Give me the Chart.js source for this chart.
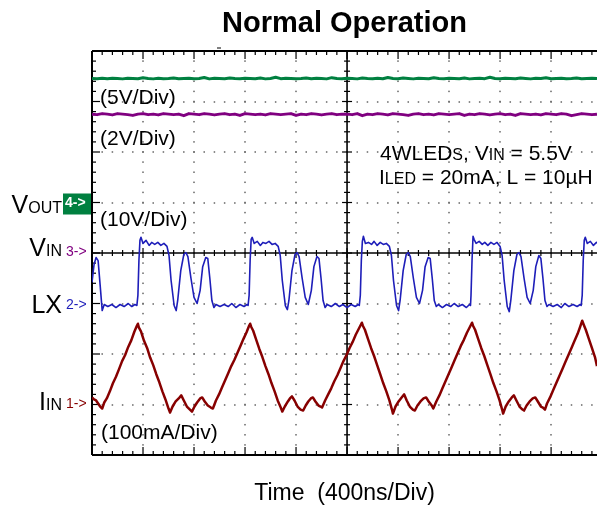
<!DOCTYPE html>
<html>
<head>
<meta charset="utf-8">
<script src="https://cdn.jsdelivr.net/npm/chart.js@4.4.1/dist/chart.umd.min.js"></script>
<style>
html,body{margin:0;padding:0;background:#fff;}
#wrap{width:597px;height:509px;position:relative;}
</style>
</head>
<body>
<div id="wrap"><canvas id="c" width="597" height="509"></canvas></div>
<script>
// ---- time base (divisions, 400ns/div) ----
const tFlat = [0.0,0.1,0.2,0.3,0.4,0.5,0.6,0.7,0.8,0.9,
1.0,1.1,1.2,1.3,1.4,1.5,1.6,1.7,1.8,1.9,
2.0,2.1,2.2,2.3,2.4,2.5,2.6,2.7,2.8,2.9,
3.0,3.1,3.2,3.3,3.4,3.5,3.6,3.7,3.8,3.9,
4.0,4.1,4.2,4.3,4.4,4.5,4.6,4.7,4.8,4.9,
5.0,5.1,5.2,5.3,5.4,5.5,5.6,5.7,5.8,5.9,
6.0,6.1,6.2,6.3,6.4,6.5,6.6,6.7,6.8,6.9,
7.0,7.1,7.2,7.3,7.4,7.5,7.6,7.7,7.8,7.9,
8.0,8.1,8.2,8.3,8.4,8.5,8.6,8.7,8.8,8.9,
9.0,9.1,9.2,9.3,9.4,9.5,9.6,9.7,9.8,9.9];

// ---- CH4 VOUT (V) ----
const voutV = [12.28,12.25,12.31,12.26,12.30,12.28,12.24,12.31,12.28,12.26,
12.36,12.28,12.24,12.30,12.26,12.28,12.32,12.25,12.28,12.30,
12.26,12.28,12.38,12.24,12.30,12.28,12.26,12.33,12.28,12.25,
12.30,12.28,12.26,12.33,12.24,12.28,12.40,12.26,12.30,12.28,
12.25,12.28,12.33,12.26,12.30,12.28,12.24,12.36,12.28,12.26,
12.30,12.28,12.24,12.33,12.28,12.26,12.30,12.25,12.38,12.28,
12.26,12.33,12.28,12.24,12.30,12.28,12.26,12.36,12.28,12.25,
12.30,12.28,12.26,12.33,12.24,12.28,12.30,12.26,12.40,12.28,
12.25,12.30,12.28,12.26,12.33,12.28,12.24,12.30,12.28,12.36,
12.26,12.28,12.30,12.25,12.28,12.33,12.26,12.28,12.30,12.28];

// ---- CH3 VIN (V) ----
const vinV = [5.50,5.48,5.52,5.50,5.47,5.52,5.50,5.48,5.45,5.50,
5.52,5.48,5.50,5.47,5.52,5.50,5.48,5.50,5.44,5.52,
5.50,5.48,5.52,5.50,5.47,5.50,5.52,5.48,5.50,5.45,
5.52,5.50,5.48,5.50,5.47,5.52,5.50,5.48,5.50,5.52,
5.45,5.50,5.48,5.52,5.50,5.47,5.50,5.52,5.48,5.50,
5.50,5.48,5.52,5.44,5.50,5.48,5.52,5.50,5.47,5.52,
5.50,5.48,5.45,5.50,5.52,5.48,5.50,5.47,5.52,5.50,
5.48,5.50,5.52,5.45,5.50,5.48,5.52,5.50,5.47,5.50,
5.52,5.48,5.50,5.45,5.52,5.50,5.48,5.50,5.47,5.52,
5.50,5.48,5.52,5.50,5.44,5.48,5.52,5.50,5.48,5.50];

// ---- CH2 LX (time div, V) ----
const lxTrace = [
[0.00,4.2],[0.04,7.7],[0.08,9.1],[0.12,8.5],[0.16,3.6],[0.20,-1.4],[0.24,-0.2],[0.31,-0.6],[0.39,-0.2],[0.47,-0.8],[0.55,-0.2],[0.63,-0.6],[0.71,0.0],[0.78,-0.6],[0.84,-0.2],[0.88,-0.4],[0.90,1.6],
[0.92,8.5],[0.94,12.5],[0.96,13.1],[1.00,11.9],[1.06,12.5],[1.12,11.5],[1.17,12.1],[1.23,11.7],[1.29,12.1],[1.35,11.5],[1.41,11.9],[1.47,11.3],[1.51,9.5],[1.55,4.6],[1.61,-0.4],[1.65,-1.4],[1.68,0.6],[1.74,6.5],[1.80,9.7],[1.84,10.1],[1.88,9.3],[1.94,5.0],[2.00,1.2],[2.06,0.0],[2.12,2.6],[2.17,7.3],[2.23,9.1],[2.27,8.9],[2.31,5.0],[2.35,0.6],[2.39,-0.8],[2.43,-0.2],[2.51,-0.6],[2.59,-0.2],[2.67,-0.6],[2.74,0.0],[2.82,-0.8],[2.90,-0.2],[2.98,-0.6],[3.04,-0.2],[3.06,-0.4],[3.08,1.6],
[3.10,8.5],[3.12,12.7],[3.14,13.1],[3.18,11.9],[3.24,12.3],[3.30,11.5],[3.35,12.1],[3.41,11.9],[3.47,12.3],[3.53,11.7],[3.59,11.9],[3.65,11.3],[3.69,9.5],[3.73,4.6],[3.79,-0.4],[3.83,-1.2],[3.86,0.6],[3.92,6.5],[3.98,9.7],[4.02,10.1],[4.06,9.3],[4.12,5.0],[4.18,1.2],[4.24,-0.2],[4.30,2.6],[4.35,7.3],[4.41,9.3],[4.45,8.9],[4.49,5.0],[4.53,0.6],[4.57,-0.8],[4.61,-0.2],[4.69,-0.6],[4.77,0.0],[4.85,-0.6],[4.92,-0.2],[5.00,-0.8],[5.08,-0.2],[5.16,-0.6],[5.22,-0.2],[5.24,-0.4],[5.26,1.6],
[5.28,8.5],[5.30,12.3],[5.32,13.3],[5.36,11.9],[5.42,12.1],[5.48,11.7],[5.53,12.3],[5.59,11.5],[5.65,12.1],[5.71,11.7],[5.77,11.9],[5.83,11.3],[5.87,9.5],[5.91,4.6],[5.97,-0.4],[6.01,-1.4],[6.04,0.6],[6.10,6.5],[6.16,9.7],[6.20,10.1],[6.24,9.3],[6.30,5.0],[6.36,1.2],[6.42,0.0],[6.48,2.6],[6.53,7.3],[6.59,9.1],[6.63,8.9],[6.67,5.0],[6.71,0.6],[6.75,-0.6],[6.79,-0.2],[6.87,-0.8],[6.95,-0.2],[7.03,-0.6],[7.10,0.0],[7.18,-0.6],[7.26,-0.2],[7.34,-0.8],[7.40,-0.2],[7.42,-0.4],[7.43,1.6],
[7.45,8.5],[7.47,13.3],[7.49,12.7],[7.53,11.9],[7.59,12.3],[7.65,11.7],[7.70,12.1],[7.76,11.5],[7.82,12.1],[7.88,11.7],[7.94,12.1],[8.00,11.3],[8.04,9.5],[8.08,4.6],[8.14,-0.6],[8.18,-1.6],[8.21,0.6],[8.27,6.5],[8.33,9.7],[8.37,10.1],[8.41,9.3],[8.47,5.0],[8.53,1.2],[8.59,0.0],[8.65,2.6],[8.70,7.3],[8.76,9.5],[8.80,8.9],[8.84,5.0],[8.88,0.6],[8.92,-0.6],[8.96,-0.2],[9.04,-0.6],[9.12,-0.2],[9.20,-0.8],[9.27,0.0],[9.35,-0.6],[9.43,-0.2],[9.51,-0.6],[9.57,-0.2],[9.59,-0.4],[9.61,1.6],
[9.63,8.5],[9.65,12.5],[9.67,13.1],[9.71,11.9],[9.77,12.3],[9.83,11.5],[9.89,12.1],[9.95,11.7]
];

// ---- CH1 IIN (time div, mA) ----
const iinTrace = [
[0.00,14],[0.04,10],[0.08,8],[0.12,2],[0.16,-4],[0.20,-8],[0.24,4],[0.29,12],[0.35,26],[0.41,42],[0.47,55],[0.53,70],[0.59,86],[0.65,98],[0.71,114],[0.77,127],[0.83,144],[0.88,156],[0.90,160],
[0.92,152],[0.96,145],[1.02,126],[1.08,112],[1.14,93],[1.20,78],[1.26,60],[1.32,44],[1.38,26],[1.44,10],[1.50,-8],[1.53,-16],[1.58,-4],[1.64,6],[1.70,12],[1.75,18],[1.80,8],[1.86,-4],[1.92,-10],[1.96,-14],[2.01,-4],[2.06,4],[2.12,12],[2.16,14],[2.21,6],[2.27,-2],[2.33,-6],[2.37,-8],[2.43,8],[2.49,20],[2.55,34],[2.61,48],[2.67,62],[2.73,76],[2.79,88],[2.85,102],[2.91,116],[2.97,130],[3.03,143],[3.08,156],[3.10,160],
[3.12,154],[3.16,146],[3.22,128],[3.28,110],[3.34,94],[3.40,76],[3.46,60],[3.52,42],[3.58,26],[3.64,8],[3.70,-6],[3.73,-14],[3.78,-4],[3.84,6],[3.88,12],[3.92,16],[3.97,8],[4.03,-4],[4.09,-10],[4.14,-12],[4.19,-2],[4.24,6],[4.29,12],[4.33,14],[4.38,6],[4.44,-2],[4.48,-4],[4.51,-6],[4.57,8],[4.63,20],[4.69,32],[4.75,46],[4.81,58],[4.87,72],[4.93,86],[4.99,98],[5.05,112],[5.11,124],[5.17,138],[5.23,150],[5.27,158],[5.29,162],
[5.31,156],[5.35,148],[5.41,130],[5.47,112],[5.53,96],[5.59,78],[5.65,60],[5.71,42],[5.77,26],[5.83,8],[5.88,-10],[5.90,-18],[5.95,-4],[6.01,6],[6.07,14],[6.12,20],[6.17,8],[6.23,-4],[6.29,-10],[6.33,-12],[6.38,-2],[6.44,6],[6.50,12],[6.55,14],[6.60,6],[6.66,-2],[6.69,-8],[6.75,6],[6.81,18],[6.87,32],[6.93,46],[6.99,60],[7.05,74],[7.11,88],[7.17,102],[7.23,116],[7.29,128],[7.35,142],[7.41,154],[7.45,162],
[7.47,156],[7.51,148],[7.57,130],[7.63,112],[7.69,96],[7.75,78],[7.81,60],[7.87,42],[7.93,26],[7.99,8],[8.04,-10],[8.06,-18],[8.11,-4],[8.17,6],[8.23,14],[8.27,18],[8.32,8],[8.38,-4],[8.44,-10],[8.47,-12],[8.52,-2],[8.58,6],[8.64,12],[8.69,14],[8.74,6],[8.80,-4],[8.84,-6],[8.88,-10],[8.92,2],[8.98,14],[9.04,28],[9.10,42],[9.16,56],[9.22,70],[9.28,84],[9.34,98],[9.40,112],[9.46,126],[9.52,140],[9.57,154],[9.61,166],
[9.64,158],[9.68,148],[9.74,130],[9.80,112],[9.86,94],[9.90,76]
];

// ---- channel settings: units per division and ground-marker division ----
const chNames  = ['VOUT','VIN','LX','IIN'];
const chPerDiv = [5, 2, 10, 100];
const chGround = [1, 0, -1, -3];
const chColors = ['rgb(0,128,64)','rgb(128,0,128)','rgb(30,30,185)','rgb(135,0,0)'];
const chWidths = [3, 3, 1.6, 2.5];

const FONT = '"Liberation Sans", Arial, Helvetica, sans-serif';

function toDiv(ch, v){ return chGround[ch] + v / chPerDiv[ch]; }

const dsVout = tFlat.map((t,i)=>({x:t, y:toDiv(0, voutV[i])}));
const dsVin  = tFlat.map((t,i)=>({x:t, y:toDiv(1, vinV[i])}));
const dsLx   = lxTrace.map(p=>({x:p[0], y:toDiv(2, p[1])}));
const dsIin  = iinTrace.map(p=>({x:p[0], y:toDiv(3, p[1])}));

function runs(ctx, parts, x, y, align){
  let w = 0;
  parts.forEach(p=>{ ctx.font = p[1] + 'px ' + FONT; w += ctx.measureText(p[0]).width; });
  let cx = align === 'right' ? x - w : x;
  ctx.textAlign = 'left';
  parts.forEach(p=>{ ctx.font = p[1] + 'px ' + FONT; ctx.fillText(p[0], cx, y); cx += ctx.measureText(p[0]).width; });
}

const graticule = {
  id: 'graticule',
  beforeDatasetsDraw(chart){
    const {ctx, chartArea:a, scales:{x, y}} = chart;
    ctx.save();
    ctx.fillStyle = '#666';
    for (let i = 1; i <= 9; i++){
      if (i === 5) continue;
      const px = Math.round(x.getPixelForValue(i));
      for (let k = -20; k <= 20; k++){
        const py = y.getPixelForValue(k/5);
        ctx.fillRect(px-0.75, py-0.75, 1.5, 1.5);
      }
    }
    for (let j = -3; j <= 3; j++){
      if (j === 0) continue;
      const py = Math.round(y.getPixelForValue(j));
      for (let k = 0; k <= 50; k++){
        const px = x.getPixelForValue(k/5);
        ctx.fillRect(px-0.75, py-0.75, 1.5, 1.5);
      }
    }
    ctx.strokeStyle = '#000';
    const ln = (x1,y1,x2,y2)=>{ ctx.beginPath(); ctx.moveTo(x1,y1); ctx.lineTo(x2,y2); ctx.stroke(); };
    ctx.lineWidth = 2;
    ln(a.left, a.top, a.left, a.bottom);
    ln(a.left, a.top, a.right, a.top);
    ln(a.left, a.bottom, a.right, a.bottom);
    const cx = x.getPixelForValue(5), cy = y.getPixelForValue(0);
    ctx.lineWidth = 1.6;
    ln(cx, a.top, cx, a.bottom);
    ln(a.left, cy, a.right, cy);
    ctx.lineWidth = 1.2;
    for (let k = 0; k <= 50; k++){
      const px = x.getPixelForValue(k/5);
      const major = k % 5 === 0;
      const L = major ? 8 : 4;
      ln(px, a.top, px, a.top + L);
      ln(px, a.bottom, px, a.bottom - L);
      const c = major ? 5 : 3;
      ln(px, cy - c, px, cy + c);
    }
    for (let k = -20; k <= 20; k++){
      const py = y.getPixelForValue(k/5);
      const major = k % 5 === 0;
      const L = major ? 8 : 4;
      ln(a.left, py, a.left + L, py);
      const c = major ? 5 : 3;
      ln(cx - c, py, cx + c, py);
    }
    ctx.lineWidth = 1;
    const tp = x.getPixelForValue(2.49);
    ln(tp - 2, a.top - 3, tp + 2, a.top - 3);
    ctx.restore();
  },
  afterDraw(chart){
    const {ctx, chartArea:a, scales:{x, y}} = chart;
    ctx.save();
    ctx.textBaseline = 'alphabetic';
    ctx.fillStyle = '#000';
    const lx = a.left - 30;
    runs(ctx, [['V',25],['OUT',16]], lx, y.getPixelForValue(chGround[0]) + 10, 'right');
    runs(ctx, [['V',25],['IN',16]], lx, y.getPixelForValue(chGround[1]) + 3, 'right');
    runs(ctx, [['LX',25]], lx, y.getPixelForValue(chGround[2]) + 9, 'right');
    runs(ctx, [['I',25],['IN',16]], lx, y.getPixelForValue(chGround[3]) + 5, 'right');
    const y4 = y.getPixelForValue(chGround[0]);
    ctx.fillStyle = chColors[0];
    ctx.fillRect(a.left - 29, y4 - 9, 28, 21);
    ctx.textBaseline = 'middle';
    ctx.font = 'bold 14px ' + FONT;
    ctx.fillStyle = '#fff';
    ctx.fillText('4->', a.left - 27, y4 + 1);
    ctx.font = '14px ' + FONT;
    ctx.fillStyle = chColors[1];
    ctx.fillText('3->', a.left - 26, y.getPixelForValue(chGround[1]) - 1);
    ctx.fillStyle = chColors[2];
    ctx.fillText('2->', a.left - 26, y.getPixelForValue(chGround[2]) + 2);
    ctx.fillStyle = chColors[3];
    ctx.fillText('1->', a.left - 26, y.getPixelForValue(chGround[3]) + 0);
    ctx.textBaseline = 'alphabetic';
    ctx.fillStyle = '#000';
    ctx.font = '21px ' + FONT;
    ctx.fillText('(5V/Div)', a.left + 8, 104);
    ctx.fillText('(2V/Div)', a.left + 8, 145);
    ctx.fillText('(10V/Div)', a.left + 8, 226);
    ctx.fillText('(100mA/Div)', a.left + 9, 439);
    runs(ctx, [['4WLED',21],['S',16],[', V',21],['IN',16],[' = 5.5V',21]], 380, 160, 'left');
    runs(ctx, [['I',21],['LED',16],[' = 20mA, L = 10\u00B5H',21]], 379, 184, 'left');
    ctx.restore();
  }
};

new Chart(document.getElementById('c'), {
  type: 'line',
  data: {
    datasets: [
      {label: chNames[0], data: dsVout, borderColor: chColors[0], borderWidth: chWidths[0]},
      {label: chNames[1], data: dsVin, borderColor: chColors[1], borderWidth: chWidths[1]},
      {label: chNames[2], data: dsLx, borderColor: chColors[2], borderWidth: chWidths[2]},
      {label: chNames[3], data: dsIin, borderColor: chColors[3], borderWidth: chWidths[3]}
    ]
  },
  options: {
    responsive: false,
    animation: false,
    devicePixelRatio: 1,
    parsing: false,
    elements: { point: { radius: 0 }, line: { tension: 0, borderJoinStyle: 'round' } },
    layout: { padding: { left: 92, right: 0, top: 0, bottom: 0 } },
    plugins: {
      legend: { display: false },
      tooltip: { enabled: false },
      title: {
        display: true,
        text: 'Normal Operation',
        color: '#000',
        font: { family: FONT, size: 29, weight: 'bold', lineHeight: 1.2 },
        padding: { top: 7, bottom: 9.2 }
      }
    },
    scales: {
      x: {
        type: 'linear', min: 0, max: 9.9,
        grid: { display: false, drawTicks: false },
        border: { display: false },
        ticks: { display: false },
        title: {
          display: true,
          text: 'Time  (400ns/Div)',
          color: '#000',
          font: { family: FONT, size: 23, lineHeight: 1.2 },
          padding: { top: 24.4, bottom: 2 }
        }
      },
      y: {
        type: 'linear', min: -4, max: 4, display: false
      }
    }
  },
  plugins: [graticule]
});
</script>
</body>
</html>
